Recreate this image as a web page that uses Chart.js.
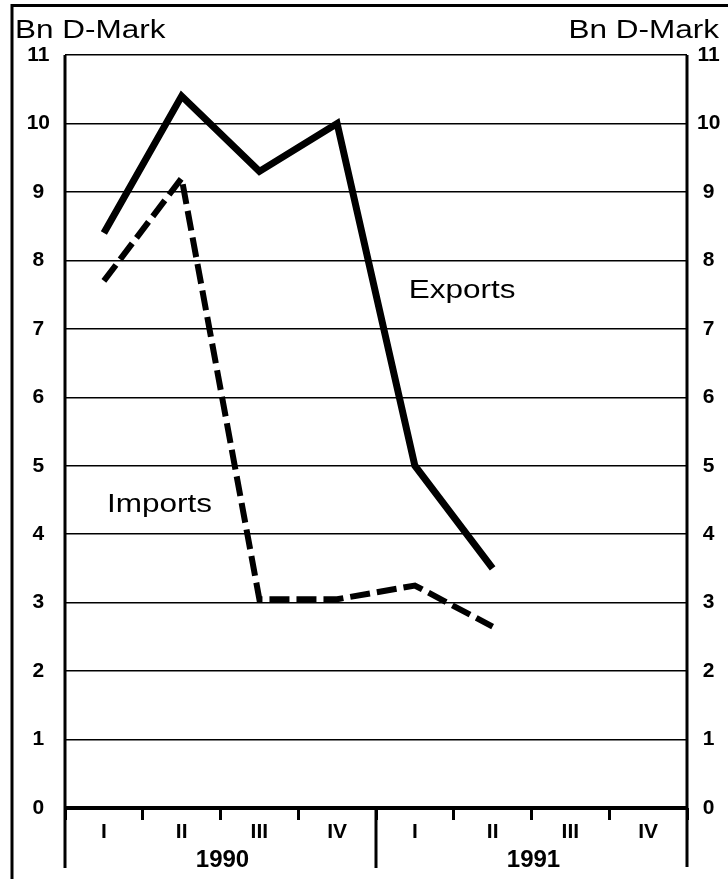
<!DOCTYPE html>
<html>
<head>
<meta charset="utf-8">
<script src="https://cdn.jsdelivr.net/npm/chart.js@4.4.0/dist/chart.umd.min.js"></script>
<style>
  html, body { margin: 0; padding: 0; background: #fff; }
  #wrap { width: 728px; height: 879px; position: relative; }
</style>
</head>
<body>
<div id="wrap"><canvas id="tradeChart"></canvas></div>
<script>
const quarters = ['I', 'II', 'III', 'IV', 'I', 'II', 'III', 'IV'];
const years = ['1990', '1991'];
const exportsBn = [8.4, 10.4, 9.3, 10.0, 5.0, 3.5, null, null];
const importsBn = [7.7, 9.2, 3.05, 3.05, 3.25, 2.65, null, null];
const yTicks = [0, 1, 2, 3, 4, 5, 6, 7, 8, 9, 10, 11];

const FONT = '"Liberation Sans", Arial, sans-serif';

// the scan is stretched sideways, so plain labels get widened a bit
function wideText(ctx, str, x, y, align) {
    ctx.save();
    ctx.translate(x, y);
    ctx.scale(1.26, 1);
    ctx.textAlign = align;
    ctx.fillText(str, 0, 0);
    ctx.restore();
}

const framePlugin = {
    id: 'frame',
    afterDraw(chart) {
        const { ctx, chartArea: a, scales: { x, y } } = chart;
        ctx.save();
        ctx.strokeStyle = '#000';
        ctx.fillStyle = '#000';
        ctx.lineCap = 'butt';

        // outer border (left and top)
        ctx.lineWidth = 3;
        ctx.beginPath();
        ctx.moveTo(12, chart.height);
        ctx.lineTo(12, 5.5);
        ctx.lineTo(chart.width, 5.5);
        ctx.stroke();

        // both value axes run down past the quarter labels
        ctx.beginPath();
        ctx.moveTo(a.left, a.top);
        ctx.lineTo(a.left, 868);
        ctx.moveTo(a.right, a.top);
        ctx.lineTo(a.right, 867);
        const sep = x.getPixelForValue(3.5);
        ctx.moveTo(sep, a.bottom);
        ctx.lineTo(sep, 868);
        ctx.stroke();

        ctx.font = 'bold 24px ' + FONT;
        ctx.textAlign = 'center';
        ctx.textBaseline = 'middle';
        years.forEach((yr, i) => ctx.fillText(yr, x.getPixelForValue(i * 4 + 1.5) + 2, 860));

        ctx.font = '25px ' + FONT;
        ctx.textBaseline = 'alphabetic';
        wideText(ctx, 'Bn D-Mark', 15, 38, 'left');
        wideText(ctx, 'Bn D-Mark', 719, 38, 'right');
        wideText(ctx, 'Exports', x.getPixelForValue(3.92), y.getPixelForValue(7.45), 'left');
        wideText(ctx, 'Imports', x.getPixelForValue(0.04), y.getPixelForValue(4.32), 'left');
        ctx.restore();
    }
};

const tickFont = { family: FONT, size: 21, weight: 'bold' };

new Chart(document.getElementById('tradeChart'), {
    type: 'line',
    data: {
        labels: quarters,
        datasets: [
            {
                label: 'Exports',
                data: exportsBn,
                borderColor: '#000',
                borderWidth: 7,
                pointRadius: 0,
                borderJoinStyle: 'miter',
                borderCapStyle: 'butt',
                tension: 0
            },
            {
                label: 'Imports',
                data: importsBn,
                borderColor: '#000',
                borderWidth: 6,
                borderDash: [20, 7],
                pointRadius: 0,
                borderJoinStyle: 'miter',
                borderCapStyle: 'butt',
                tension: 0
            }
        ]
    },
    options: {
        responsive: true,
        maintainAspectRatio: false,
        animation: false,
        layout: { padding: { top: 55, left: 0, right: 0, bottom: 0 } },
        plugins: {
            legend: { display: false },
            tooltip: { enabled: false }
        },
        scales: {
            x: {
                type: 'category',
                offset: true,
                grid: {
                    offset: true,
                    drawOnChartArea: false,
                    color: '#000',
                    tickLength: 12,
                    tickWidth: 3,
                    tickColor: '#000'
                },
                border: { display: false },
                ticks: { font: tickFont, color: '#000', padding: 0, maxRotation: 0, autoSkip: false },
                afterFit: s => { s.height = 71; }
            },
            y: {
                position: 'left',
                min: 0,
                max: 11,
                afterBuildTicks: s => { s.ticks = yTicks.map(v => ({ value: v })); },
                grid: {
                    color: '#000',
                    lineWidth: c => (c.tick && c.tick.value === 0 ? 4 : 1.5),
                    drawTicks: false
                },
                border: { display: false },
                ticks: { font: tickFont, color: '#000', padding: 15, crossAlign: 'center' },
                afterFit: s => { s.width = 65; }
            },
            y2: {
                position: 'right',
                min: 0,
                max: 11,
                afterBuildTicks: s => { s.ticks = yTicks.map(v => ({ value: v })); },
                grid: { display: false },
                border: { display: false },
                ticks: { font: tickFont, color: '#000', padding: 2, crossAlign: 'center' },
                afterFit: s => { s.width = 41; }
            }
        }
    },
    plugins: [framePlugin]
});
</script>
</body>
</html>
